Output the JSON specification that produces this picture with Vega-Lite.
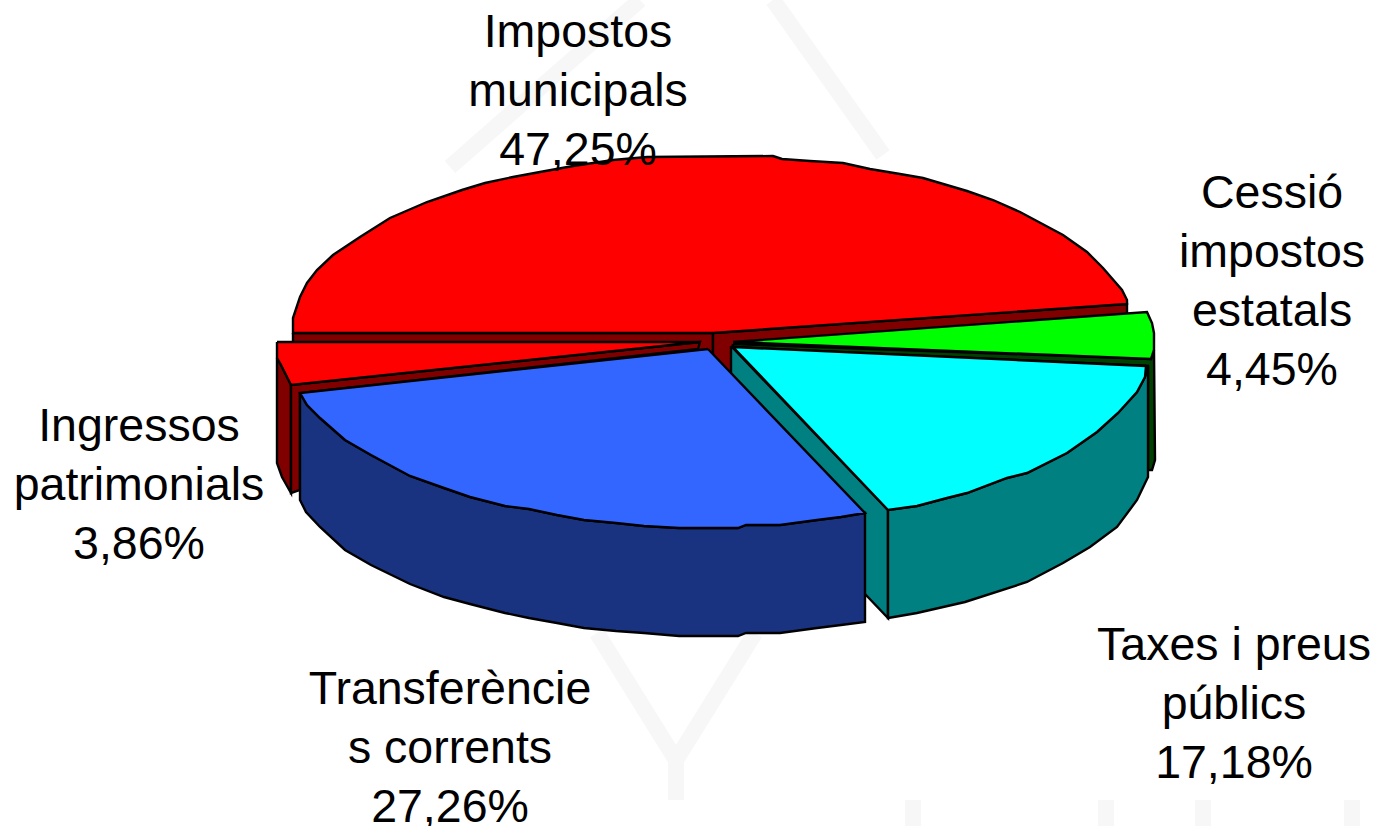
{"$schema":"https://vega.github.io/schema/vega-lite/v6.json","width":1377,"height":826,"padding":0,"autosize":"none","background":"white","config":{"view":{"stroke":null}},
"datasets":{
"mark":[
{"s":"a","i":1,"x":450,"y":167},{"s":"a","i":2,"x":640,"y":0},
{"s":"b","i":1,"x":773,"y":0},{"s":"b","i":2,"x":883,"y":155},
{"s":"c","i":1,"x":597,"y":633},{"s":"c","i":2,"x":676,"y":760},{"s":"c","i":3,"x":755,"y":633},
{"s":"d","i":1,"x":676,"y":760},{"s":"d","i":2,"x":676,"y":800},
{"s":"e","i":1,"x":913,"y":800},{"s":"e","i":2,"x":913,"y":826},
{"s":"f","i":1,"x":1106,"y":800},{"s":"f","i":2,"x":1106,"y":826},
{"s":"g","i":1,"x":1203,"y":800},{"s":"g","i":2,"x":1203,"y":826},
{"s":"h","i":1,"x":1352,"y":800},{"s":"h","i":2,"x":1352,"y":826}
],
"faces":[
{"f":"Impostos left wall","i":1,"x":293,"y":333},{"f":"Impostos left wall","i":2,"x":713,"y":333},{"f":"Impostos left wall","i":3,"x":713,"y":372},{"f":"Impostos left wall","i":4,"x":293,"y":342},{"f":"Impostos left wall","i":5,"x":293,"y":333},
{"f":"Impostos right wall","i":1,"x":713,"y":333},{"f":"Impostos right wall","i":2,"x":1127,"y":304},{"f":"Impostos right wall","i":3,"x":1127,"y":322},{"f":"Impostos right wall","i":4,"x":733,"y":372},{"f":"Impostos right wall","i":5,"x":713,"y":372},{"f":"Impostos right wall","i":6,"x":713,"y":333},
{"f":"Impostos top","i":1,"x":713,"y":333},{"f":"Impostos top","i":2,"x":293,"y":333},{"f":"Impostos top","i":3,"x":293,"y":318},{"f":"Impostos top","i":4,"x":300,"y":297},{"f":"Impostos top","i":5,"x":307,"y":283},{"f":"Impostos top","i":6,"x":317,"y":270},{"f":"Impostos top","i":7,"x":333,"y":255},{"f":"Impostos top","i":8,"x":360,"y":237},{"f":"Impostos top","i":9,"x":390,"y":218},{"f":"Impostos top","i":10,"x":427,"y":202},{"f":"Impostos top","i":11,"x":462,"y":190},{"f":"Impostos top","i":12,"x":485,"y":183},{"f":"Impostos top","i":13,"x":513,"y":177},{"f":"Impostos top","i":14,"x":540,"y":172},{"f":"Impostos top","i":15,"x":573,"y":166},{"f":"Impostos top","i":16,"x":613,"y":160},{"f":"Impostos top","i":17,"x":647,"y":157},{"f":"Impostos top","i":18,"x":773,"y":156},{"f":"Impostos top","i":19,"x":782,"y":159},{"f":"Impostos top","i":20,"x":810,"y":161},{"f":"Impostos top","i":21,"x":843,"y":163},{"f":"Impostos top","i":22,"x":870,"y":169},{"f":"Impostos top","i":23,"x":900,"y":174},{"f":"Impostos top","i":24,"x":923,"y":178},{"f":"Impostos top","i":25,"x":967,"y":191},{"f":"Impostos top","i":26,"x":993,"y":200},{"f":"Impostos top","i":27,"x":1020,"y":212},{"f":"Impostos top","i":28,"x":1063,"y":235},{"f":"Impostos top","i":29,"x":1087,"y":252},{"f":"Impostos top","i":30,"x":1103,"y":268},{"f":"Impostos top","i":31,"x":1122,"y":290},{"f":"Impostos top","i":32,"x":1127,"y":300},{"f":"Impostos top","i":33,"x":1127,"y":304},{"f":"Impostos top","i":34,"x":713,"y":333},
{"f":"Ingressos outer wall","i":1,"x":277,"y":358},{"f":"Ingressos outer wall","i":2,"x":281,"y":365},{"f":"Ingressos outer wall","i":3,"x":291,"y":385},{"f":"Ingressos outer wall","i":4,"x":291,"y":493},{"f":"Ingressos outer wall","i":5,"x":282,"y":477},{"f":"Ingressos outer wall","i":6,"x":277,"y":463},{"f":"Ingressos outer wall","i":7,"x":277,"y":358},
{"f":"Ingressos inner wall","i":1,"x":291,"y":385},{"f":"Ingressos inner wall","i":2,"x":700,"y":342},{"f":"Ingressos inner wall","i":3,"x":698,"y":349},{"f":"Ingressos inner wall","i":4,"x":300,"y":393},{"f":"Ingressos inner wall","i":5,"x":300,"y":490},{"f":"Ingressos inner wall","i":6,"x":291,"y":493},{"f":"Ingressos inner wall","i":7,"x":291,"y":385},
{"f":"Ingressos top","i":1,"x":277,"y":342},{"f":"Ingressos top","i":2,"x":700,"y":342},{"f":"Ingressos top","i":3,"x":291,"y":385},{"f":"Ingressos top","i":4,"x":281,"y":365},{"f":"Ingressos top","i":5,"x":277,"y":358},{"f":"Ingressos top","i":6,"x":277,"y":342},
{"f":"Cessió wall","i":1,"x":733,"y":344},{"f":"Cessió wall","i":2,"x":1151,"y":359},{"f":"Cessió wall","i":3,"x":1154,"y":350},{"f":"Cessió wall","i":4,"x":1155,"y":460},{"f":"Cessió wall","i":5,"x":1152,"y":470},{"f":"Cessió wall","i":6,"x":1148,"y":470},{"f":"Cessió wall","i":7,"x":1148,"y":366},{"f":"Cessió wall","i":8,"x":733,"y":347},{"f":"Cessió wall","i":9,"x":733,"y":344},
{"f":"Cessió top","i":1,"x":733,"y":342},{"f":"Cessió top","i":2,"x":1147,"y":312},{"f":"Cessió top","i":3,"x":1152,"y":323},{"f":"Cessió top","i":4,"x":1154,"y":333},{"f":"Cessió top","i":5,"x":1154,"y":350},{"f":"Cessió top","i":6,"x":1151,"y":359},{"f":"Cessió top","i":7,"x":733,"y":342},
{"f":"Taxes inner wall","i":1,"x":731,"y":346},{"f":"Taxes inner wall","i":2,"x":888,"y":510},{"f":"Taxes inner wall","i":3,"x":888,"y":618},{"f":"Taxes inner wall","i":4,"x":865,"y":594},{"f":"Taxes inner wall","i":5,"x":731,"y":460},{"f":"Taxes inner wall","i":6,"x":731,"y":346},
{"f":"Taxes outer wall","i":1,"x":888,"y":510},{"f":"Taxes outer wall","i":2,"x":917,"y":506},{"f":"Taxes outer wall","i":3,"x":947,"y":498},{"f":"Taxes outer wall","i":4,"x":967,"y":493},{"f":"Taxes outer wall","i":5,"x":1007,"y":478},{"f":"Taxes outer wall","i":6,"x":1027,"y":473},{"f":"Taxes outer wall","i":7,"x":1067,"y":453},{"f":"Taxes outer wall","i":8,"x":1097,"y":432},{"f":"Taxes outer wall","i":9,"x":1118,"y":413},{"f":"Taxes outer wall","i":10,"x":1137,"y":392},{"f":"Taxes outer wall","i":11,"x":1145,"y":377},{"f":"Taxes outer wall","i":12,"x":1148,"y":366},{"f":"Taxes outer wall","i":13,"x":1148,"y":477},{"f":"Taxes outer wall","i":14,"x":1137,"y":500},{"f":"Taxes outer wall","i":15,"x":1117,"y":527},{"f":"Taxes outer wall","i":16,"x":1090,"y":547},{"f":"Taxes outer wall","i":17,"x":1063,"y":563},{"f":"Taxes outer wall","i":18,"x":1027,"y":582},{"f":"Taxes outer wall","i":19,"x":965,"y":602},{"f":"Taxes outer wall","i":20,"x":917,"y":613},{"f":"Taxes outer wall","i":21,"x":888,"y":618},{"f":"Taxes outer wall","i":22,"x":888,"y":510},
{"f":"Taxes top","i":1,"x":733,"y":347},{"f":"Taxes top","i":2,"x":1146,"y":366},{"f":"Taxes top","i":3,"x":1145,"y":377},{"f":"Taxes top","i":4,"x":1137,"y":392},{"f":"Taxes top","i":5,"x":1118,"y":413},{"f":"Taxes top","i":6,"x":1097,"y":432},{"f":"Taxes top","i":7,"x":1067,"y":453},{"f":"Taxes top","i":8,"x":1027,"y":473},{"f":"Taxes top","i":9,"x":1007,"y":478},{"f":"Taxes top","i":10,"x":967,"y":493},{"f":"Taxes top","i":11,"x":947,"y":498},{"f":"Taxes top","i":12,"x":917,"y":506},{"f":"Taxes top","i":13,"x":888,"y":510},{"f":"Taxes top","i":14,"x":733,"y":347},
{"f":"Transferències wall","i":1,"x":300,"y":393},{"f":"Transferències wall","i":2,"x":307,"y":405},{"f":"Transferències wall","i":3,"x":320,"y":418},{"f":"Transferències wall","i":4,"x":345,"y":440},{"f":"Transferències wall","i":5,"x":371,"y":455},{"f":"Transferències wall","i":6,"x":410,"y":476},{"f":"Transferències wall","i":7,"x":444,"y":488},{"f":"Transferències wall","i":8,"x":470,"y":497},{"f":"Transferències wall","i":9,"x":505,"y":506},{"f":"Transferències wall","i":10,"x":529,"y":509},{"f":"Transferències wall","i":11,"x":557,"y":515},{"f":"Transferències wall","i":12,"x":584,"y":520},{"f":"Transferències wall","i":13,"x":616,"y":523},{"f":"Transferències wall","i":14,"x":644,"y":526},{"f":"Transferències wall","i":15,"x":679,"y":528},{"f":"Transferències wall","i":16,"x":738,"y":528},{"f":"Transferències wall","i":17,"x":746,"y":525},{"f":"Transferències wall","i":18,"x":780,"y":525},{"f":"Transferències wall","i":19,"x":817,"y":520},{"f":"Transferències wall","i":20,"x":841,"y":517},{"f":"Transferències wall","i":21,"x":865,"y":513},{"f":"Transferències wall","i":22,"x":865,"y":622},{"f":"Transferències wall","i":23,"x":841,"y":625},{"f":"Transferències wall","i":24,"x":817,"y":628},{"f":"Transferències wall","i":25,"x":780,"y":633},{"f":"Transferències wall","i":26,"x":746,"y":633},{"f":"Transferències wall","i":27,"x":738,"y":636},{"f":"Transferències wall","i":28,"x":679,"y":636},{"f":"Transferències wall","i":29,"x":644,"y":633},{"f":"Transferències wall","i":30,"x":616,"y":631},{"f":"Transferències wall","i":31,"x":584,"y":628},{"f":"Transferències wall","i":32,"x":557,"y":623},{"f":"Transferències wall","i":33,"x":529,"y":618},{"f":"Transferències wall","i":34,"x":505,"y":613},{"f":"Transferències wall","i":35,"x":470,"y":604},{"f":"Transferències wall","i":36,"x":444,"y":597},{"f":"Transferències wall","i":37,"x":410,"y":584},{"f":"Transferències wall","i":38,"x":371,"y":565},{"f":"Transferències wall","i":39,"x":345,"y":550},{"f":"Transferències wall","i":40,"x":320,"y":527},{"f":"Transferències wall","i":41,"x":306,"y":512},{"f":"Transferències wall","i":42,"x":300,"y":500},{"f":"Transferències wall","i":43,"x":300,"y":393},
{"f":"Transferències top","i":1,"x":708,"y":349},{"f":"Transferències top","i":2,"x":300,"y":393},{"f":"Transferències top","i":3,"x":307,"y":405},{"f":"Transferències top","i":4,"x":320,"y":418},{"f":"Transferències top","i":5,"x":345,"y":440},{"f":"Transferències top","i":6,"x":371,"y":455},{"f":"Transferències top","i":7,"x":410,"y":476},{"f":"Transferències top","i":8,"x":444,"y":488},{"f":"Transferències top","i":9,"x":470,"y":497},{"f":"Transferències top","i":10,"x":505,"y":506},{"f":"Transferències top","i":11,"x":529,"y":509},{"f":"Transferències top","i":12,"x":557,"y":515},{"f":"Transferències top","i":13,"x":584,"y":520},{"f":"Transferències top","i":14,"x":616,"y":523},{"f":"Transferències top","i":15,"x":644,"y":526},{"f":"Transferències top","i":16,"x":679,"y":528},{"f":"Transferències top","i":17,"x":738,"y":528},{"f":"Transferències top","i":18,"x":746,"y":525},{"f":"Transferències top","i":19,"x":780,"y":525},{"f":"Transferències top","i":20,"x":817,"y":520},{"f":"Transferències top","i":21,"x":841,"y":517},{"f":"Transferències top","i":22,"x":865,"y":513},{"f":"Transferències top","i":23,"x":708,"y":349}
],
"labels":[
{"label":"Impostos\nmunicipals\n47,25%","x":578,"y":47},
{"label":"Cessió\nimpostos\nestatals\n4,45%","x":1272,"y":208},
{"label":"Taxes i preus\npúblics\n17,18%","x":1234,"y":660},
{"label":"Transferèncie\ns corrents\n27,26%","x":450,"y":704},
{"label":"Ingressos\npatrimonials\n3,86%","x":139,"y":441}
]},
"encoding":{
"x":{"field":"x","type":"quantitative","axis":null,"scale":{"domain":[0,1377],"nice":false,"zero":false}},
"y":{"field":"y","type":"quantitative","axis":null,"scale":{"domain":[826,0],"nice":false,"zero":false}}
},
"layer":[
{"data":{"name":"mark"},"mark":{"type":"line","stroke":"#f7f7f7","strokeWidth":16,"strokeCap":"butt"},"encoding":{"detail":{"field":"s"},"order":{"field":"i","type":"quantitative"}}},
{"data":{"name":"faces"},"mark":{"type":"line","stroke":"black","strokeWidth":2.4,"strokeJoin":"miter"},"encoding":{"order":{"field":"i","type":"quantitative"},
"fill":{"field":"f","type":"nominal","legend":null,"scale":{"domain":["Impostos left wall","Impostos right wall","Impostos top","Ingressos outer wall","Ingressos inner wall","Ingressos top","Cessió wall","Cessió top","Taxes inner wall","Taxes outer wall","Taxes top","Transferències wall","Transferències top"],"range":["#800000","#800000","#ff0000","#800000","#800000","#ff0000","#004000","#00ff00","#008080","#008080","#00ffff","#1a3380","#3366ff"]}}}},
{"data":{"name":"labels"},"mark":{"type":"text","font":"Liberation Sans","fontSize":46.5,"align":"center","baseline":"alphabetic","lineBreak":"\n","lineHeight":59,"color":"black"},"encoding":{"text":{"field":"label","type":"nominal"}}}
]}
